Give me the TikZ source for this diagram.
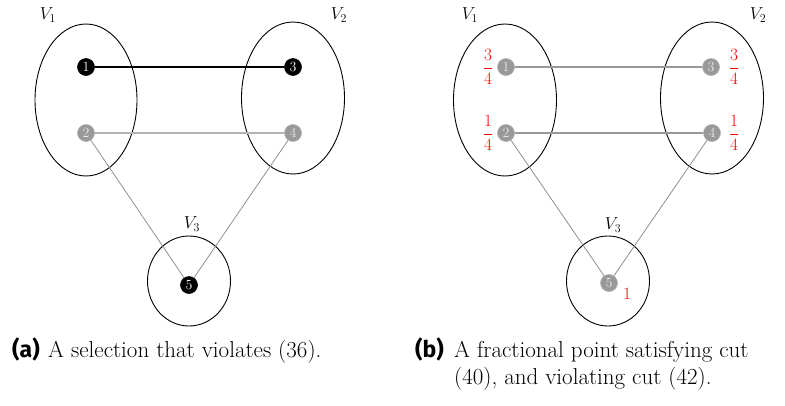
\documentclass[tikz,border=0pt]{standalone}
\usepackage{fontspec}
\newfontfamily\labfont{Fira Sans}
\usetikzlibrary{shapes.geometric}
\definecolor{nodegray}{HTML}{999999}
\definecolor{nodeedge}{HTML}{B0B0B0}
\definecolor{numgray}{HTML}{E8E8E8}
\definecolor{edgelight}{HTML}{B4B4B4}
\definecolor{edgemid}{HTML}{909090}
\definecolor{fracred}{HTML}{FF0000}
\begin{document}
\begin{tikzpicture}[x=1pt,y=-1pt,
  vtx/.style={circle, minimum size=17pt, inner sep=0pt, line width=0.6pt, font=\fontsize{14}{14}\selectfont},
  blk/.style={vtx, fill=black, draw=black, text=white},
  gry/.style={vtx, fill=nodegray, draw=nodeedge, text=numgray},
  grp/.style={draw=black, line width=0.9pt, ellipse, inner sep=0pt},
  setlab/.style={inner sep=0pt, font=\fontsize{18}{18}\selectfont},
  fraclab/.style={inner sep=0pt, text=fracred, font=\fontsize{16}{16}\selectfont},
  captxt/.style={inner sep=0pt, anchor=base west, font=\fontsize{23}{27}\selectfont},
  caplab/.style={inner sep=0pt, anchor=base west, font=\labfont\bfseries\fontsize{23}{27}\selectfont},
  heavy/.style={draw=black, line width=1.6pt},
  lightedge/.style={draw=edgelight, line width=1.3pt},
  thinedge/.style={draw=edgemid, line width=0.8pt},
  midedge/.style={draw=nodegray, line width=1.1pt}
]
\useasboundingbox (0,0) rectangle (785,405);

% ---------- panel (a) ----------
\node[grp, minimum width=102pt, minimum height=152pt] (aV1) at (86,100) {};
\node[grp, minimum width=103pt, minimum height=152pt] (aV2) at (293,98) {};
\node[grp, minimum width=83pt, minimum height=90pt] (aV3) at (189,281) {};
\node[setlab] (aL1) at (48,15) {$V_1$};
\node[setlab] (aL2) at (339,15) {$V_2$};
\node[setlab] (aL3) at (192,224) {$V_3$};

\node[blk] (a1) at (86,67) {1};
\node[gry] (a2) at (86,133) {2};
\node[blk] (a3) at (293,67) {3};
\node[gry] (a4) at (293,133) {4};
\node[blk] (a5) at (189,285) {5};

\draw[heavy] (a1) -- (a3);
\draw[lightedge] (a2) -- (a4);
\draw[thinedge] (a2) -- (a5);
\draw[thinedge] (a4) -- (a5);

% ---------- panel (b) ----------
\node[grp, minimum width=103pt, minimum height=152pt] (bV1) at (505,100) {};
\node[grp, minimum width=103pt, minimum height=152pt] (bV2) at (712,98) {};
\node[grp, minimum width=83pt, minimum height=90pt] (bV3) at (608,281) {};
\node[setlab] (bL1) at (470,15) {$V_1$};
\node[setlab] (bL2) at (758,15) {$V_2$};
\node[setlab] (bL3) at (613,225) {$V_3$};

\node[gry] (b1) at (506,67) {1};
\node[gry] (b2) at (506,133) {2};
\node[gry] (b3) at (711,67) {3};
\node[gry] (b4) at (712,133) {4};
\node[gry] (b5) at (609,283) {5};

\draw[midedge] (b1) -- (b3);
\draw[midedge] (b2) -- (b4);
\draw[thinedge] (b2) -- (b5);
\draw[thinedge] (b4) -- (b5);

\node[fraclab] (f1) at (488,67) {$\displaystyle\frac{3}{4}$};
\node[fraclab] (f2) at (488,133) {$\displaystyle\frac{1}{4}$};
\node[fraclab] (f3) at (734,67) {$\displaystyle\frac{3}{4}$};
\node[fraclab] (f4) at (734,133) {$\displaystyle\frac{1}{4}$};
\node[fraclab, font=\fontsize{17}{17}\selectfont] (f5) at (627,294) {$1$};

% ---------- captions ----------
\node[caplab] (capal) at (12,357) {(a)};
\node[captxt] (capa) at (48,357) {A selection that violates (36).};
\node[caplab] (capbl) at (415,357) {(b)};
\node[captxt] (capb1) at (454,357) {A fractional point satisfying cut};
\node[captxt] (capb2) at (454,384) {(40), and violating cut (42).};
\end{tikzpicture}
\end{document}
